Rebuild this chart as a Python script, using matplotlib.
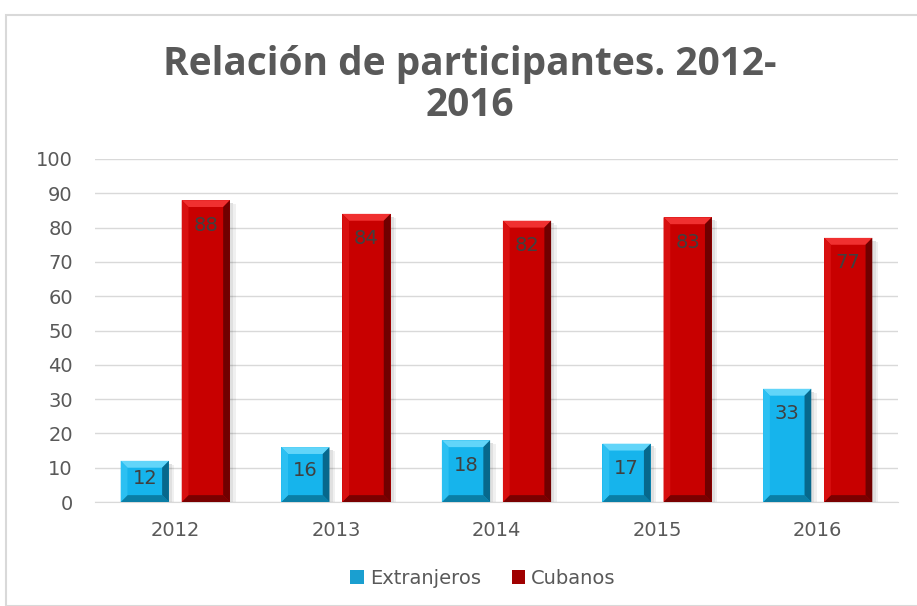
import matplotlib
matplotlib.use("Agg")
import matplotlib.pyplot as plt
import numpy as np
from matplotlib.patches import Rectangle, Polygon

years = ["2012", "2013", "2014", "2015", "2016"]
extranjeros = [12, 16, 18, 17, 33]
cubanos = [88, 84, 82, 83, 77]
yticks = [0, 10, 20, 30, 40, 50, 60, 70, 80, 90, 100]

txt = "#595959"
fam = "DejaVu Sans"

fig = plt.figure(figsize=(9.17, 6.06), dpi=100)
fig.patches.append(Rectangle((6/917, 0), 1, 1 - 15/606, transform=fig.transFigure,
                             fill=False, edgecolor="#d9d9d9", lw=1.5, zorder=0))
ax = fig.add_axes([95/917, 1 - 502/606, 803/917, (502 - 159)/606])

x = np.arange(len(years))
w = 0.3
off = 0.19
b1 = ax.bar(x - off, extranjeros, w, color="#16b4ec", lw=0, label="Extranjeros", zorder=3)
b2 = ax.bar(x + off, cubanos, w, color="#c80000", lw=0, label="Cubanos", zorder=3)

# bevel shading (derived from bar geometry)
dx, dy = 0.042, 2.0
styles = [
    (b1, dict(top="#62d5f9", bottom="#0a7ea6", left="#2cc0f2", right="#07688c")),
    (b2, dict(top="#f03030", bottom="#7a0000", left="#d81010", right="#700000")),
]
for bars, c in styles:
    for r in bars:
        x0, y0, ww, hh = r.get_x(), r.get_y(), r.get_width(), r.get_height()
        x1, y1 = x0 + ww, y0 + hh
        # shadow
        ax.add_patch(Rectangle((x1, y0), 0.02, hh - 0.8, color="#000000", alpha=0.12, zorder=2, lw=0))
        ax.add_patch(Rectangle((x1 + 0.02, y0), 0.015, hh - 1.2, color="#000000", alpha=0.06, zorder=2, lw=0))
        polys = [
            ([(x0, y1), (x1, y1), (x1 - dx, y1 - dy), (x0 + dx, y1 - dy)], c["top"]),
            ([(x0, y0), (x1, y0), (x1 - dx, y0 + dy), (x0 + dx, y0 + dy)], c["bottom"]),
            ([(x0, y0), (x0 + dx, y0 + dy), (x0 + dx, y1 - dy), (x0, y1)], c["left"]),
            ([(x1, y0), (x1 - dx, y0 + dy), (x1 - dx, y1 - dy), (x1, y1)], c["right"]),
        ]
        for pts, col in polys:
            ax.add_patch(Polygon(pts, closed=True, facecolor=col, edgecolor="none", zorder=4))

for i in range(len(years)):
    for xi, v in ((x[i] - off, extranjeros[i]), (x[i] + off, cubanos[i])):
        ax.text(xi, max(v - 7.3, v * 0.57), str(v), ha="center", va="center",
                fontsize=14, color="#404040", zorder=5, family=fam)

ax.set_xlim(-0.5, len(years) - 0.5)
ax.set_ylim(0, 100)
ax.set_yticks(yticks)
ax.set_yticklabels([str(t) for t in yticks], fontsize=14, color=txt, family=fam)
ax.set_xticks(x)
ax.set_xticklabels(years, fontsize=14, color=txt, family=fam)
ax.tick_params(axis="y", length=0, pad=16)
ax.tick_params(axis="x", length=0, pad=14)
ax.grid(axis="y", color="#d9d9d9", lw=1, zorder=0)
for s in ["top", "right", "left"]:
    ax.spines[s].set_visible(False)
ax.spines["bottom"].set_color("#d9d9d9")

fig.text(470/917, 1 - 85/606, "Relación de participantes. 2012-\n2016", ha="center", va="center",
         fontsize=28, fontweight="bold", color="#595959", family="Open Sans", linespacing=1.1)

leg = fig.legend(handles=[b1, b2], loc="center", bbox_to_anchor=(483/917, 1 - 578/606), ncol=2,
                 frameon=False, prop={"family": fam, "size": 14}, handlelength=0.7,
                 handleheight=0.7, columnspacing=1.6, handletextpad=0.3)
leg.legend_handles[0].set_facecolor("#1a9fd0")
leg.legend_handles[1].set_facecolor("#a00000")
for t in leg.get_texts():
    t.set_color(txt)

fig.savefig("out.png", dpi=100)
